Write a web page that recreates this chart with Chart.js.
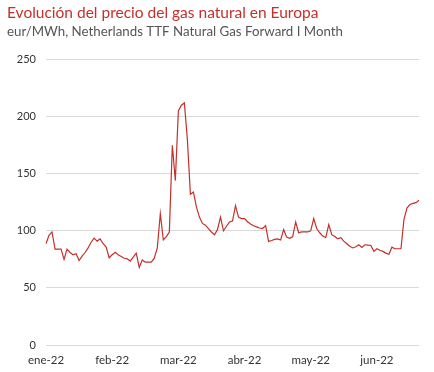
<!DOCTYPE html>
<html>
<head>
<meta charset="utf-8">
<script src="https://cdn.jsdelivr.net/npm/chart.js@4"></script>
<style>
 body{margin:0;background:#fff}
 #wrap{width:434px;height:372px}
</style>
</head>
<body>
<div id="wrap"><canvas id="gas" width="434" height="372"></canvas></div>
<script>
// TTF front month, eur/MWh, one value per trading day (ene-22 .. jun-22)
var precio = [
 88.7, 96, 99, 84, 84, 84, 75, 84, 81, 79,
 80, 74, 77.8, 81, 85, 90, 93.6, 91, 93, 88.7,
 85.7, 76.4, 79, 81.3, 79, 77.5, 76, 75.5, 73.5, 77,
 80.4, 68, 74.5, 72.5, 72.5, 72.5, 76, 85, 115, 92,
 95, 99, 175, 144, 205, 210, 212, 180, 132, 134,
 121, 112, 106.5, 105, 102, 99, 96.6, 101, 112, 100,
 104, 107.7, 108.5, 122, 112, 110.7, 110.7, 108, 106, 104.5,
 103.5, 102.5, 102, 104.5, 90.7, 91.5, 92.5, 93, 92, 101,
 94.5, 93.5, 95, 107.7, 98.3, 99, 99, 99, 100, 110.7,
 102, 98.3, 95.4, 94, 105.4, 96.6, 95, 93, 94, 91,
 88.7, 86.5, 85, 86, 87.8, 85.5, 87.8, 87.5, 87.2, 82,
 84.3, 83, 82, 80.5, 79.5, 85.7, 84.3, 84.3, 84.3, 110,
 120, 123, 124, 124.7, 126.8
];
var meses = ['ene-22', 'feb-22', 'mar-22', 'abr-22', 'may-22', 'jun-22'];
var cadaN = 22; // one month label every 22 points
var yTicks = [0, 50, 100, 150, 200, 250];

var labels = precio.map(function(v, i){
  return (i % cadaN === 0 && meses[i / cadaN]) ? meses[i / cadaN] : '';
});

var ctx = document.getElementById('gas').getContext('2d');
new Chart(ctx, {
  type: 'line',
  data: {
    labels: labels,
    datasets: [{
      data: precio,
      borderColor: '#c4302b',
      borderWidth: 1.2,
      pointRadius: 0,
      tension: 0,
      fill: false
    }]
  },
  options: {
    responsive: false,
    animation: false,
    layout: {padding: {left: 7, right: 15, top: 4, bottom: 0}},
    plugins: {
      legend: {display: false},
      tooltip: {enabled: false},
      title: {
        display: true,
        text: 'Evolución del precio del gas natural en Europa',
        align: 'start',
        color: '#c4302b',
        font: {family: 'Lato', size: 15.5, weight: 'normal'},
        padding: {top: 0, bottom: 1}
      },
      subtitle: {
        display: true,
        text: 'eur/MWh, Netherlands TTF Natural Gas Forward I Month',
        align: 'start',
        color: '#555555',
        font: {family: 'Lato', size: 13.3},
        padding: {top: 0, bottom: 20}
      }
    },
    scales: {
      x: {
        offset: false,
        grid: {display: false},
        border: {display: false},
        ticks: {
          autoSkip: false,
          maxRotation: 0,
          color: '#333333',
          font: {family: 'Lato', size: 11.5},
          padding: 0,
          callback: function(v, i){ return labels[i] || null; }
        },
        afterFit: function(s){ s.height = 27; }
      },
      y: {
        min: 0,
        max: 250,
        afterBuildTicks: function(s){ s.ticks = yTicks.map(function(v){ return {value: v}; }); },
        grid: {color: '#d9d9d9', drawTicks: false},
        border: {display: false},
        ticks: {
          color: '#333333',
          font: {family: 'Lato', size: 11},
          padding: 10
        },
        afterFit: function(s){ s.width = 39; }
      }
    }
  }
});
</script>
</body>
</html>
